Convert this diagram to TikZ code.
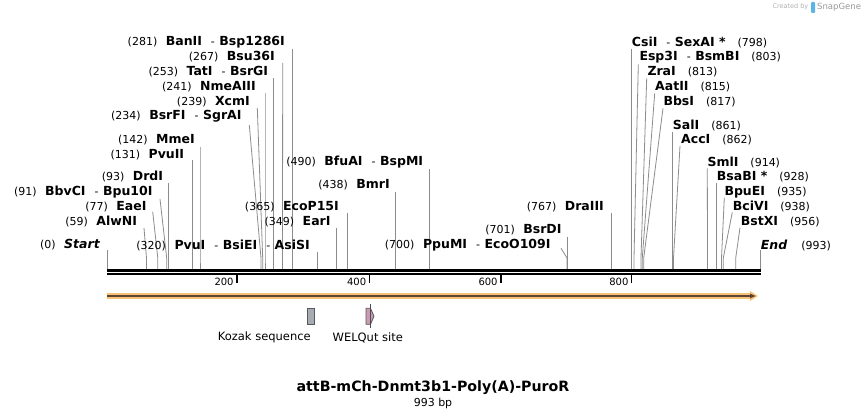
\documentclass[tikz,border=0pt]{standalone}
\usepackage{fontspec}
\setmainfont{DejaVu Sans}
\definecolor{featorange}{HTML}{F7C275}
\definecolor{featdark}{HTML}{5B4636}
\definecolor{kozakgray}{HTML}{A7ABB2}
\definecolor{welqpink}{HTML}{C99BB5}
\definecolor{cutgray}{HTML}{8C8C8C}
\definecolor{snapblue}{HTML}{5AB4E6}
\newcommand{\enz}[1]{{\fontsize{12.5}{14}\selectfont\bfseries #1}}
\newcommand{\enzsep}{\hspace{8.5pt}}
\newcommand{\enzdash}{\hspace{9pt}-\hspace{4.5pt}}

\begin{document}
\begin{tikzpicture}[x=1pt,y=-1pt,
    lab/.style={inner sep=0pt, font=\fontsize{11}{13}\selectfont},
    cut/.style={draw=cutgray, line width=0.8pt}]
\useasboundingbox (0,0) rectangle (868,419);
\fill[white] (0,0) rectangle (868,419);

% cut sites on top of the bar
\coordinate (knee) at (0,258);
\coordinate (c0) at (107,269);
\coordinate (c59) at (146.5,269);
\coordinate (c77) at (157.8,269);
\coordinate (c91) at (166.7,269);
\coordinate (c93) at (168.3,269);
\coordinate (c131) at (192.7,269);
\coordinate (c142) at (200,269);
\coordinate (c234) at (261,269);
\coordinate (c239) at (262.7,269);
\coordinate (c241) at (265,269);
\coordinate (c253) at (273.3,269);
\coordinate (c267) at (282.5,269);
\coordinate (c281) at (292.5,269);
\coordinate (c320) at (317.5,269);
\coordinate (c349) at (336.7,269);
\coordinate (c365) at (347.3,269);
\coordinate (c438) at (395.7,269);
\coordinate (c490) at (429.3,269);
\coordinate (c700) at (567,269);
\coordinate (c701) at (567.3,269);
\coordinate (c767) at (611.7,269);
\coordinate (c798) at (631.7,269);
\coordinate (c803) at (634,269);
\coordinate (c813) at (641,269);
\coordinate (c815) at (642.3,269);
\coordinate (c817) at (643.7,269);
\coordinate (c861) at (672.7,269);
\coordinate (c862) at (673.5,269);
\coordinate (c914) at (707.5,269);
\coordinate (c928) at (716.7,269);
\coordinate (c935) at (721.5,269);
\coordinate (c938) at (723.3,269);
\coordinate (c956) at (735.7,269);
\coordinate (c993) at (760.7,269);

% sequence bar
\draw[line width=2.6pt] (107,270.3) -- (760.7,270.3);
\draw[line width=2.4pt] (107,273.9) -- (760.7,273.9);

% ruler
\draw[line width=1.6pt] (236.7,275) -- (236.7,283);
\draw[line width=1.6pt] (369.3,275) -- (369.3,283);
\draw[line width=1.6pt] (500.7,275) -- (500.7,283);
\draw[line width=1.6pt] (631.5,275) -- (631.5,283);
\node[lab, anchor=east, font=\fontsize{10}{12}\selectfont] (t200) at (233.8,281.7) {200};
\node[lab, anchor=east, font=\fontsize{10}{12}\selectfont] (t400) at (366.4,281.7) {400};
\node[lab, anchor=east, font=\fontsize{10}{12}\selectfont] (t600) at (497.8,281.7) {600};
\node[lab, anchor=east, font=\fontsize{10}{12}\selectfont] (t800) at (628.6,281.7) {800};

% enzymes, left side
\node[lab, anchor=east] (start) at (100,245) {(0)\enzsep\enz{\itshape Start}};
\draw[cut] ([shift={(7,5)}]start.east) -- (c0);
\node[lab, anchor=east] (alwNI) at (137.3,221.7) {(59)\enzsep\enz{AlwNI}};
\draw[cut] ([shift={(6.7,6.3)}]alwNI.east) -- (c59 |- knee) -- (c59);
\node[lab, anchor=east] (eaeI) at (146.7,206.7) {(77)\enzsep\enz{EaeI}};
\draw[cut] ([shift={(6,5)}]eaeI.east) -- (c77 |- knee) -- (c77);
\node[lab, anchor=east] (bbvCI) at (152.7,192.3) {(91)\enzsep\enz{BbvCI}\enzdash\enz{Bpu10I}};
\draw[cut] ([shift={(7.3,6.7)}]bbvCI.east) -- (c91 |- knee) -- (c91);
\node[lab, anchor=east] (drdI) at (163.3,176.7) {(93)\enzsep\enz{DrdI}};
\draw[cut] ([shift={(5,6.3)}]drdI.east) -- (c93 |- knee) -- (c93);
\node[lab, anchor=east] (pvuII) at (184.3,154.7) {(131)\enzsep\enz{PvuII}};
\draw[cut] ([shift={(8.4,5.3)}]pvuII.east) -- (c131 |- knee) -- (c131);
\node[lab, anchor=east] (mmeI) at (195,139.5) {(142)\enzsep\enz{MmeI}};
\draw[cut] ([shift={(5,7.2)}]mmeI.east) -- (c142 |- knee) -- (c142);
\node[lab, anchor=east] (bsrFI) at (241.7,116) {(234)\enzsep\enz{BsrFI}\enzdash\enz{SgrAI}};
\draw[cut] ([shift={(7.6,9)}]bsrFI.east) -- (c234 |- knee) -- (c234);
\node[lab, anchor=east] (xcmI) at (250,101.7) {(239)\enzsep\enz{XcmI}};
\draw[cut] ([shift={(7.3,6.3)}]xcmI.east) -- (c239 |- knee) -- (c239);
\node[lab, anchor=east] (nmeAIII) at (256,86.7) {(241)\enzsep\enz{NmeAIII}};
\draw[cut] ([shift={(9,6.3)}]nmeAIII.east) -- (c241 |- knee) -- (c241);
\node[lab, anchor=east] (tatI) at (268.3,71.7) {(253)\enzsep\enz{TatI}\enzdash\enz{BsrGI}};
\draw[cut] ([shift={(5,6.6)}]tatI.east) -- (c253 |- knee) -- (c253);
\node[lab, anchor=east] (bsu36I) at (275,56.7) {(267)\enzsep\enz{Bsu36I}};
\draw[cut] ([shift={(7.7,6.3)}]bsu36I.east) -- (c267 |- knee) -- (c267);
\node[lab, anchor=east] (banII) at (285,42.3) {(281)\enzsep\enz{BanII}\enzdash\enz{Bsp1286I}};
\draw[cut] ([shift={(7.5,7)}]banII.east) -- (c281 |- knee) -- (c281);
\node[lab, anchor=east] (pvuI) at (310,245) {(320)\enzsep\enz{PvuI}\enzdash\enz{BsiEI}\enzdash\enz{AsiSI}};
\draw[cut] ([shift={(7.5,6.7)}]pvuI.east) -- (c320);
\node[lab, anchor=east] (earI) at (330.7,221.7) {(349)\enzsep\enz{EarI}};
\draw[cut] ([shift={(6,6.3)}]earI.east) -- (c349 |- knee) -- (c349);
\node[lab, anchor=east] (ecoP15I) at (339,206.7) {(365)\enzsep\enz{EcoP15I}};
\draw[cut] ([shift={(8.3,6)}]ecoP15I.east) -- (c365 |- knee) -- (c365);
\node[lab, anchor=east] (bmrI) at (390,185) {(438)\enzsep\enz{BmrI}};
\draw[cut] ([shift={(5.7,6.7)}]bmrI.east) -- (c438 |- knee) -- (c438);
\node[lab, anchor=east] (bfuAI) at (423.3,162.3) {(490)\enzsep\enz{BfuAI}\enzdash\enz{BspMI}};
\draw[cut] ([shift={(6,6.7)}]bfuAI.east) -- (c490 |- knee) -- (c490);
\node[lab, anchor=east] (ppuMI) at (550.7,245) {(700)\enzsep\enz{PpuMI}\enzdash\enz{EcoO109I}};
\draw[cut] ([shift={(10.3,3.3)}]ppuMI.east) -- (c700 |- knee) -- (c700);
\node[lab, anchor=east] (bsrDI) at (561.7,229.3) {(701)\enzsep\enz{BsrDI}};
\draw[cut] ([shift={(5.6,7.4)}]bsrDI.east) -- (c701 |- knee) -- (c701);
\node[lab, anchor=east] (draIII) at (604,206.7) {(767)\enzsep\enz{DraIII}};
\draw[cut] ([shift={(7.7,6.3)}]draIII.east) -- (c767 |- knee) -- (c767);

% enzymes, right side
\node[lab, anchor=west] (csiI) at (631.7,42.3) {\enz{CsiI}\enzdash\enz{SexAI *}\hspace{12pt}(798)};
\draw[cut] ([shift={(0,7)}]csiI.west) -- (c798 |- knee) -- (c798);
\node[lab, anchor=west] (esp3I) at (639.3,56.7) {\enz{Esp3I}\enzdash\enz{BsmBI}\hspace{12pt}(803)};
\draw[cut] ([shift={(-1,7.6)}]esp3I.west) -- (c803 |- knee) -- (c803);
\node[lab, anchor=west] (zraI) at (647.3,71.7) {\enz{ZraI}\hspace{12pt}(813)};
\draw[cut] ([shift={(-0.6,6.6)}]zraI.west) -- (c813 |- knee) -- (c813);
\node[lab, anchor=west] (aatII) at (655,86.7) {\enz{AatII}\hspace{12pt}(815)};
\draw[cut] ([shift={(-0.3,6.6)}]aatII.west) -- (c815 |- knee) -- (c815);
\node[lab, anchor=west] (bbsI) at (663.3,101.7) {\enz{BbsI}\hspace{12pt}(817)};
\draw[cut] ([shift={(-0.3,6.6)}]bbsI.west) -- (c817 |- knee) -- (c817);
\node[lab, anchor=west] (salI) at (672.7,125) {\enz{SalI}\hspace{12pt}(861)};
\draw[cut] ([shift={(0,6.7)}]salI.west) -- (c861 |- knee) -- (c861);
\node[lab, anchor=west] (accI) at (681,140) {\enz{AccI}\hspace{12pt}(862)};
\draw[cut] ([shift={(-1,6)}]accI.west) -- (c862 |- knee) -- (c862);
\node[lab, anchor=west] (smlI) at (707.3,162.3) {\enz{SmlI}\hspace{12pt}(914)};
\draw[cut] ([shift={(0,6)}]smlI.west) -- (c914 |- knee) -- (c914);
\node[lab, anchor=west] (bsaBI) at (716.7,176.7) {\enz{BsaBI *}\hspace{12pt}(928)};
\draw[cut] ([shift={(0,6.6)}]bsaBI.west) -- (c928 |- knee) -- (c928);
\node[lab, anchor=west] (bpuEI) at (724.3,192.3) {\enz{BpuEI}\hspace{12pt}(935)};
\draw[cut] ([shift={(0,5.4)}]bpuEI.west) -- (c935 |- knee) -- (c935);
\node[lab, anchor=west] (bciVI) at (732.7,206.7) {\enz{BciVI}\hspace{12pt}(938)};
\draw[cut] ([shift={(-0.4,5.6)}]bciVI.west) -- (c938 |- knee) -- (c938);
\node[lab, anchor=west] (bstXI) at (740.7,221.7) {\enz{BstXI}\hspace{12pt}(956)};
\draw[cut] ([shift={(-0.7,6)}]bstXI.west) -- (c956 |- knee) -- (c956);
\node[lab, anchor=west] (end) at (760.7,245) {\enz{\itshape End}\hspace{14pt}(993)};
\draw[cut] ([shift={(0,5)}]end.west) -- (c993);

% feature track
\fill[featorange] (107,293.3) rectangle (750,298.7);
\fill[featorange] (750,291) -- (758,296) -- (750,301) -- cycle;
\draw[featdark, line width=1.5pt] (107,296) -- (751,296);
\fill[featdark] (750,293.6) -- (755.5,296) -- (750,298.4) -- cycle;

\node[draw=black!65, fill=kozakgray, line width=0.8pt, minimum width=7pt, minimum height=16pt, inner sep=0pt] (kozak) at (310.8,316.3) {};
\node[lab, font=\fontsize{11.5}{13}\selectfont] (kozaklab) at (264.3,337.7) {Kozak sequence};
\draw[draw=black!65, fill=welqpink, line width=0.8pt] (366,308.3) -- (370.5,308.3) -- (374,316.3) -- (370.5,324.3) -- (366,324.3) -- cycle;
\draw[black!70, line width=0.8pt] (370,304) -- (370,328.3);
\node[lab, font=\fontsize{11.5}{13}\selectfont] (welqlab) at (367.8,337.7) {WELQut site};

% title
\node[inner sep=0pt, font=\fontsize{14.2}{16}\selectfont\bfseries] (title) at (433,388) {attB-mCh-Dnmt3b1-Poly(A)-PuroR};
\node[lab] (size) at (433,403.3) {993 bp};

% credit
\node[inner sep=0pt, anchor=east, text=black!30, font=\fontsize{6.5}{8}\selectfont] (credit) at (808.5,7) {Created by};
\fill[snapblue, rounded corners=1pt] (811,2) rectangle (815,13);
\node[inner sep=0pt, anchor=west, text=black!40, font=\fontsize{8.5}{10}\selectfont] (snapgene) at (817,7) {SnapGene};
\end{tikzpicture}
\end{document}
